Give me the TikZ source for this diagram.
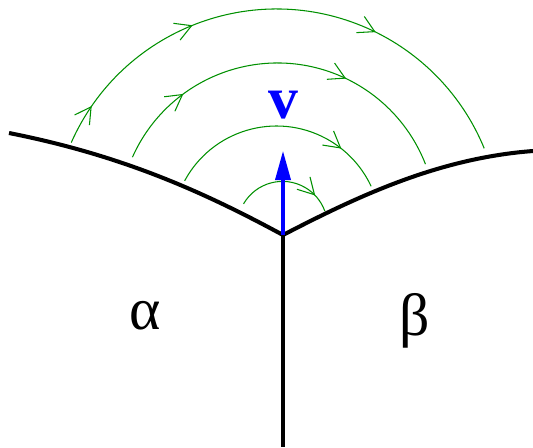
\documentclass[tikz,border=0pt]{standalone}
\usepackage{fontspec}
\setmainfont{Liberation Serif}
\usetikzlibrary{arrows.meta, decorations.markings}
\definecolor{xgreen}{RGB}{0,144,0}
\definecolor{xblue}{RGB}{0,0,255}

\begin{document}
\begin{tikzpicture}[x=0.02cm, y=-0.02cm,
		boundary/.style={line width=2.3pt, black},
		flow/.style={xgreen, line width=0.6pt},
		flowmark/.style={postaction={decorate, decoration={markings, mark=at position #1 with {\arrow{Straight Barb[length=3.2mm, width=3.6mm]}}}}},
		velocity/.style={xblue, line width=2.8pt, -{Triangle[length=6mm, width=2.9mm]}},
		phase/.style={inner sep=0pt, font=\fontsize{34}{40}\selectfont}]
		\useasboundingbox (0,0) rectangle (533,447);
		% grain boundaries meeting at the triple junction
		\coordinate (J) at (283,235);
		\coordinate (L) at (9,133);
		\coordinate (R) at (533,151);
		\coordinate (B) at (283,447);
		\draw[boundary] (L) .. controls (120,155) and (200,190) .. (J) .. controls (360,195) and (440,158) .. (R);
		\draw[boundary] (J) -- (B);
		% flow lines around the junction
		\draw[flow, flowmark=0.82] (282.5,226.4) ++(210:45) arc[start angle=210, end angle=340, radius=45];
		\draw[flow, flowmark=0.79] (276.5,230.4) ++(208.4:104.4) arc[start angle=208.4, end angle=335, radius=104.4];
		\draw[flow, flowmark=0.22, flowmark=0.68] (277.5,221.8) ++(204:158.8) arc[start angle=204, end angle=338.7, radius=158.8];
		\draw[flow, flowmark=0.08, flowmark=0.33, flowmark=0.69] (276.5,233.5) ++(203.9:224.5) arc[start angle=203.9, end angle=337.7, radius=224.5];
		% velocity of the junction
		\coordinate (tip) at (283,150);
		\draw[velocity] (J) -- (tip);
		\node[phase, text=xblue, font=\fontsize{34}{40}\selectfont\bfseries] (v) at (283,105) {v};
		\node[phase] (alpha) at (145,316) {α};
		\node[phase] (beta) at (415,321) {β};
	\end{tikzpicture}
\end{document}
